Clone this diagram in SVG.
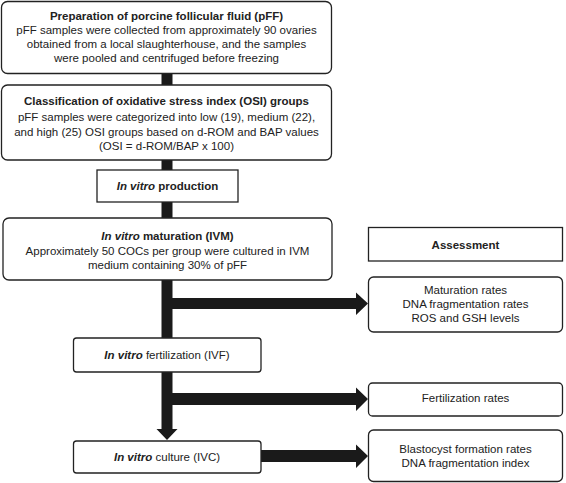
<svg xmlns="http://www.w3.org/2000/svg" width="566" height="483" viewBox="0 0 566 483">
<style>
.box{fill:#fff;stroke:#222;stroke-width:1.3}
text{font-family:"Liberation Sans",Arial,sans-serif;font-size:11.5px;fill:#222;text-anchor:middle}
.b{font-weight:bold}
.i{font-style:italic}
.bar{fill:#1a1a1a}
</style>
<g id="connectors">
<rect class="bar" x="161.5" y="73" width="11" height="12"/>
<rect class="bar" x="161.5" y="160" width="11" height="10"/>
<rect class="bar" x="161.5" y="202" width="11" height="16"/>
<rect class="bar" x="161.5" y="280" width="11" height="58"/>
<polygon class="bar" points="172,298 356,298 356,292.5 368,303.5 356,315 356,309 172,309"/>
<polygon class="bar" points="161.5,372 172.5,372 172.5,429 177.5,429 167,440 156.5,429 161.5,429"/>
<polygon class="bar" points="172,393 356,393 356,387.5 368,399 356,411 356,405 172,405"/>
<polygon class="bar" points="261,450 356,450 356,444.5 368,456 356,468 356,462 261,462"/>
</g>
<g id="pff">
<rect class="box" x="1.5" y="1.5" width="330" height="72" rx="6"/>
<text class="b" x="166.5" y="19.5">Preparation of porcine follicular fluid (pFF)</text>
<text x="166.5" y="34">pFF samples were collected from approximately 90 ovaries</text>
<text x="166.5" y="48">obtained from a local slaughterhouse, and the samples</text>
<text x="166.5" y="62">were pooled and centrifuged before freezing</text>
</g>
<g id="osi">
<rect class="box" x="1.5" y="85" width="330" height="75" rx="6"/>
<text class="b" x="166.5" y="105">Classification of oxidative stress index (OSI) groups</text>
<text x="166.5" y="121">pFF samples were categorized into low (19), medium (22),</text>
<text x="166.5" y="135.5">and high (25) OSI groups based on d-ROM and BAP values</text>
<text x="166.5" y="150">(OSI = d-ROM/BAP x 100)</text>
</g>
<g id="production">
<rect class="box" x="97" y="170" width="141" height="32"/>
<text class="b" x="167.5" y="190"><tspan class="i">In vitro</tspan> production</text>
</g>
<g id="ivm">
<rect class="box" x="3" y="218" width="329" height="62" rx="6"/>
<text class="b" x="167.5" y="240"><tspan class="i">In vitro</tspan> maturation (IVM)</text>
<text x="167.5" y="255">Approximately 50 COCs per group were cultured in IVM</text>
<text x="167.5" y="269">medium containing 30% of pFF</text>
</g>
<g id="assessment">
<rect class="box" x="368.5" y="227.5" width="194" height="33.5"/>
<text class="b" x="465.5" y="248.5">Assessment</text>
</g>
<g id="maturation">
<rect class="box" x="368.5" y="277" width="194" height="55" rx="5"/>
<text x="465.5" y="294">Maturation rates</text>
<text x="465.5" y="308">DNA fragmentation rates</text>
<text x="465.5" y="322">ROS and GSH levels</text>
</g>
<g id="ivf">
<rect class="box" x="73.5" y="338" width="187.5" height="34" rx="3"/>
<text x="167" y="359"><tspan class="i b">In vitro</tspan> fertilization (IVF)</text>
</g>
<g id="fertilization">
<rect class="box" x="368.5" y="383" width="194" height="33" rx="4"/>
<text x="465.5" y="402">Fertilization rates</text>
</g>
<g id="ivc">
<rect class="box" x="73.5" y="441" width="187.5" height="32" rx="3"/>
<text x="167" y="461"><tspan class="i b">In vitro</tspan> culture (IVC)</text>
</g>
<g id="blastocyst">
<rect class="box" x="368.5" y="430" width="194" height="51.5" rx="5"/>
<text x="465.5" y="453">Blastocyst formation rates</text>
<text x="465.5" y="467">DNA fragmentation index</text>
</g>
</svg>
